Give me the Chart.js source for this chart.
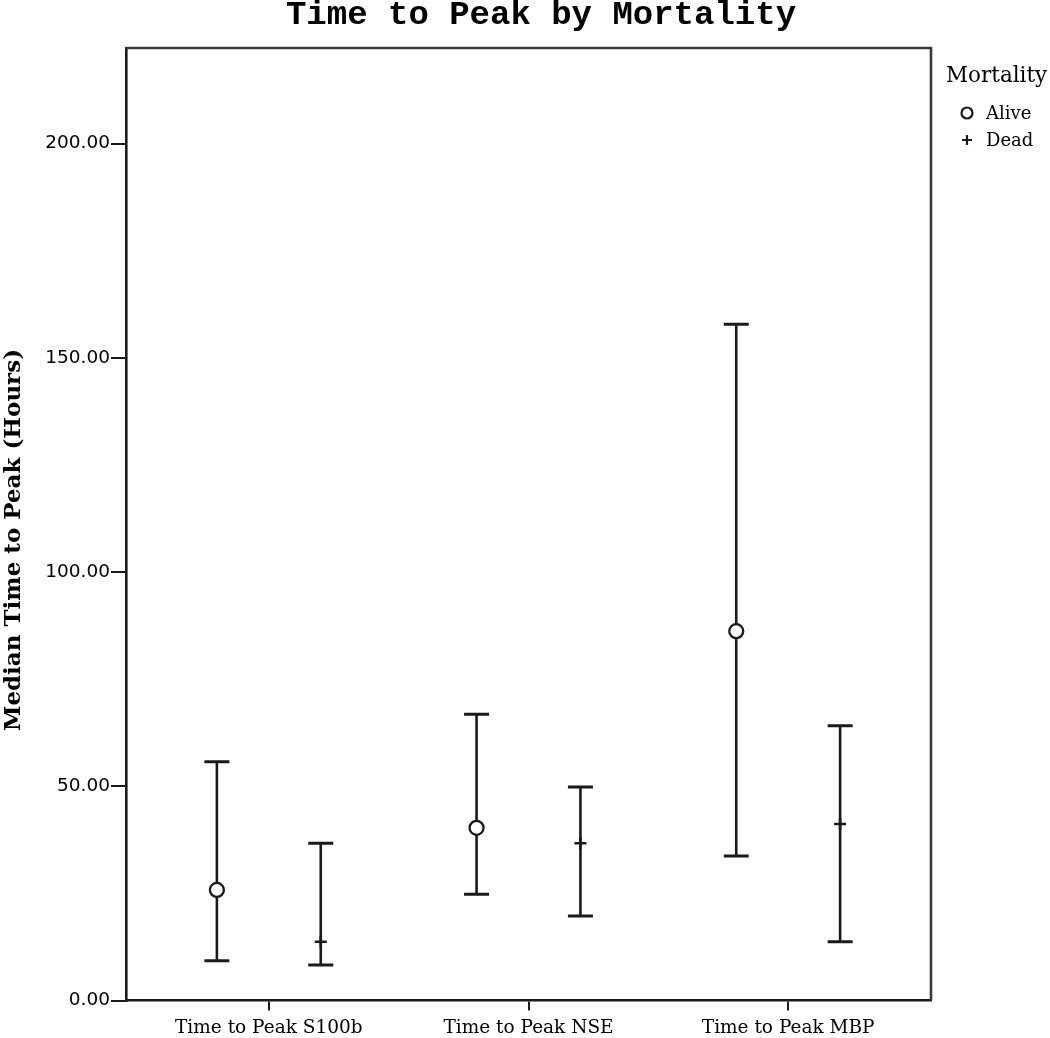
<!DOCTYPE html>
<html>
<head>
<meta charset="utf-8">
<script src="https://cdn.jsdelivr.net/npm/chart.js@4/dist/chart.umd.min.js"></script>
<style>
  html, body { margin: 0; padding: 0; background: #ffffff; }
  #wrap { width: 1050px; height: 1038px; position: relative; }
</style>
</head>
<body>
<div id="wrap"><canvas id="c" width="1050" height="1038"></canvas></div>
<script>
// ---- Data ----
const chartTitle = 'Time to Peak by Mortality';
const yAxisTitle = 'Median Time to Peak (Hours)';
const legendTitle = 'Mortality';
const categories = ['Time to Peak S100b', 'Time to Peak NSE', 'Time to Peak MBP'];
const groups = ['Alive', 'Dead'];
const aliveMedian = [25.8, 40.3, 86.2];
const aliveLow    = [9.3, 24.8, 33.7];
const aliveHigh   = [55.7, 66.8, 157.8];
const deadMedian  = [13.7, 36.7, 41.2];
const deadLow     = [8.3, 19.7, 13.7];
const deadHigh    = [36.7, 49.8, 64.1];
const yTicks = [0, 50, 100, 150, 200];
const yMin = 0, yMax = 222.3;

// ---- Styling / layout ----
const ink = '#1a1a1a';
const groupOffset = { Alive: -0.2, Dead: 0.2 };
const catPos = categories.map((c, i) => i + 1);

const datasets = [];
const seriesByGroup = {
  Alive: { med: aliveMedian, lo: aliveLow, hi: aliveHigh, style: 'circle', r: 7, bw: 2.3 },
  Dead:  { med: deadMedian,  lo: deadLow,  hi: deadHigh,  style: 'cross',  r: 6, bw: 2.6 }
};
// whiskers (vertical line + caps)
groups.forEach(g => {
  const s = seriesByGroup[g];
  categories.forEach((c, i) => {
    datasets.push({
      type: 'scatter',
      label: g + ' ' + c + ' range',
      data: [{ x: catPos[i] + groupOffset[g], y: s.lo[i] }, { x: catPos[i] + groupOffset[g], y: s.hi[i] }],
      showLine: true,
      borderColor: ink,
      borderWidth: 2.6,
      pointStyle: 'line',
      pointRadius: 12.5,
      pointBorderWidth: 3,
      pointBorderColor: ink,
      pointBackgroundColor: ink,
      order: 2
    });
  });
});
// medians
groups.forEach(g => {
  const s = seriesByGroup[g];
  datasets.push({
    type: 'scatter',
    label: g,
    data: categories.map((c, i) => ({ x: catPos[i] + groupOffset[g], y: s.med[i] })),
    showLine: false,
    pointStyle: s.style,
    pointRadius: s.r,
    pointBorderWidth: s.bw,
    pointBorderColor: ink,
    pointBackgroundColor: '#ffffff',
    order: 1
  });
});

const decorPlugin = {
  id: 'decor',
  beforeDraw(chart) {
    const ctx = chart.ctx;
    ctx.save();
    ctx.fillStyle = '#ffffff';
    ctx.fillRect(0, 0, chart.width, chart.height);
    ctx.restore();
  },
  afterDraw(chart) {
    const ctx = chart.ctx;
    const a = chart.chartArea;
    ctx.save();
    // frame top/right
    ctx.strokeStyle = '#3a3a3a';
    ctx.lineWidth = 2.6;
    ctx.beginPath();
    ctx.moveTo(a.left, a.top);
    ctx.lineTo(a.right, a.top);
    ctx.lineTo(a.right, a.bottom);
    ctx.stroke();
    // title
    ctx.fillStyle = '#000';
    ctx.font = 'bold 34px "Liberation Mono"';
    ctx.textAlign = 'center';
    ctx.textBaseline = 'middle';
    ctx.fillText(chartTitle, 541, 15);
    // y axis title
    ctx.save();
    ctx.translate(14, 540);
    ctx.rotate(-Math.PI / 2);
    ctx.font = 'bold 23px "DejaVu Serif"';
    ctx.fillText(yAxisTitle, 0, 0);
    ctx.restore();
    // legend
    ctx.textAlign = 'left';
    ctx.font = '21.5px "DejaVu Serif"';
    ctx.fillText(legendTitle, 946, 76);
    ctx.font = '18px "DejaVu Serif"';
    ctx.fillText(groups[0], 986, 114);
    ctx.fillText(groups[1], 986, 141);
    ctx.strokeStyle = ink;
    ctx.lineWidth = 2.2;
    ctx.beginPath();
    ctx.arc(967, 113, 5.5, 0, Math.PI * 2);
    ctx.stroke();
    ctx.lineWidth = 2.2;
    ctx.beginPath();
    ctx.moveTo(962, 140); ctx.lineTo(972, 140);
    ctx.moveTo(967, 135); ctx.lineTo(967, 145);
    ctx.stroke();
    ctx.restore();
  }
};

new Chart(document.getElementById('c'), {
  data: { datasets },
  options: {
    responsive: false,
    animation: false,
    events: [],
    layout: { padding: { top: 48, right: 119, left: 0, bottom: 0 } },
    plugins: { legend: { display: false }, title: { display: false }, tooltip: { enabled: false } },
    scales: {
      x: {
        type: 'linear',
        min: 0.45,
        max: 3.55,
        afterBuildTicks: (scale) => { scale.ticks = catPos.map(v => ({ value: v })); },
        afterFit: (scale) => { scale.height = 37.5; },
        grid: { display: true, drawOnChartArea: false, drawTicks: true, tickLength: 10, color: ink, lineWidth: 2 },
        border: { display: true, color: ink, width: 2.6 },
        ticks: {
          color: '#000',
          font: { family: 'DejaVu Serif', size: 18.5 },
          padding: 7,
          maxRotation: 0,
          autoSkip: false,
          callback: (v) => { const i = catPos.indexOf(v); return i >= 0 ? categories[i] : ''; }
        }
      },
      y: {
        type: 'linear',
        min: yMin,
        max: yMax,
        afterBuildTicks: (scale) => { scale.ticks = yTicks.map(v => ({ value: v })); },
        afterFit: (scale) => { scale.width = 126; },
        grid: { display: true, drawOnChartArea: false, drawTicks: true, tickLength: 15, color: ink, lineWidth: 2 },
        border: { display: true, color: ink, width: 2.6 },
        ticks: {
          color: '#000',
          font: { family: 'DejaVu Sans', size: 18.5 },
          padding: 1,
          callback: (v) => Number(v).toFixed(2)
        }
      }
    }
  },
  plugins: [decorPlugin]
});
</script>
</body>
</html>
